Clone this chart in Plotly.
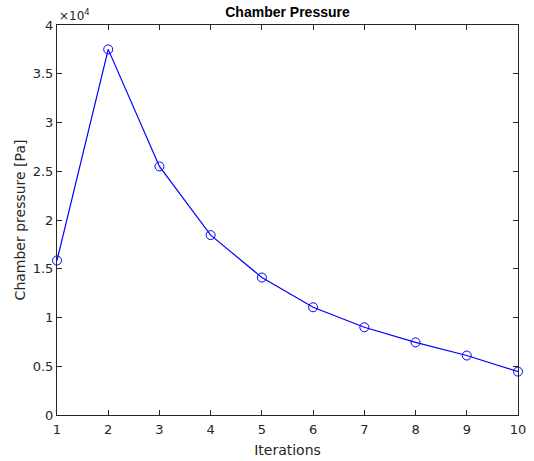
import plotly.graph_objects as go

iterations = [1, 2, 3, 4, 5, 6, 7, 8, 9, 10]
pressure = [15850, 37500, 25500, 18450, 14100, 11050, 9000, 7450, 6100, 4450]
y_tickvals = [0, 5000, 10000, 15000, 20000, 25000, 30000, 35000, 40000]
y_ticktext = ["0", "0.5", "1", "1.5", "2", "2.5", "3", "3.5", "4"]
x_tickvals = [1, 2, 3, 4, 5, 6, 7, 8, 9, 10]

axcol = "#262626"
font = "DejaVu Sans"

fig = go.Figure()
fig.add_trace(go.Scatter(
    x=iterations, y=pressure, mode="lines+markers",
    line=dict(color="#0000ff", width=1.2),
    marker=dict(symbol="circle-open", size=9, color="#0000ff", line=dict(width=1)),
    showlegend=False, cliponaxis=False,
))

axis_common = dict(
    showgrid=False, zeroline=False, showline=True, linecolor=axcol, linewidth=1,
    ticks="inside", ticklen=5, tickcolor=axcol, mirror="allticks", automargin=False,
    tickfont=dict(family=font, size=13, color=axcol),
)
fig.update_xaxes(range=[1, 10], tickvals=x_tickvals, ticklabelstandoff=2,
                 title=dict(text="Iterations", font=dict(family=font, size=14, color=axcol), standoff=9),
                 **axis_common)
fig.update_yaxes(range=[0, 40000], tickvals=y_tickvals, ticktext=y_ticktext,
                 title=dict(text="Chamber pressure [Pa]", font=dict(family=font, size=14, color=axcol), standoff=3),
                 **axis_common)

fig.update_layout(
    width=534, height=461,
    margin=dict(l=57, r=16, t=25, b=46, autoexpand=False),
    paper_bgcolor="white", plot_bgcolor="white",
    title=dict(text="<b>Chamber Pressure</b>", x=0.5, xref="paper", xanchor="center", y=0.985, yanchor="top",
               font=dict(family="Liberation Sans", size=14, color="black"), automargin=False),
    annotations=[dict(text="×10<sup>4</sup>", xref="paper", yref="paper", x=0, y=1,
                      xanchor="left", yanchor="bottom", showarrow=False,
                      font=dict(family=font, size=12, color=axcol))],
)

fig.write_html("out.html", config={"displayModeBar": False},
               post_script="document.body.style.margin='0';document.body.style.overflow='hidden';")
